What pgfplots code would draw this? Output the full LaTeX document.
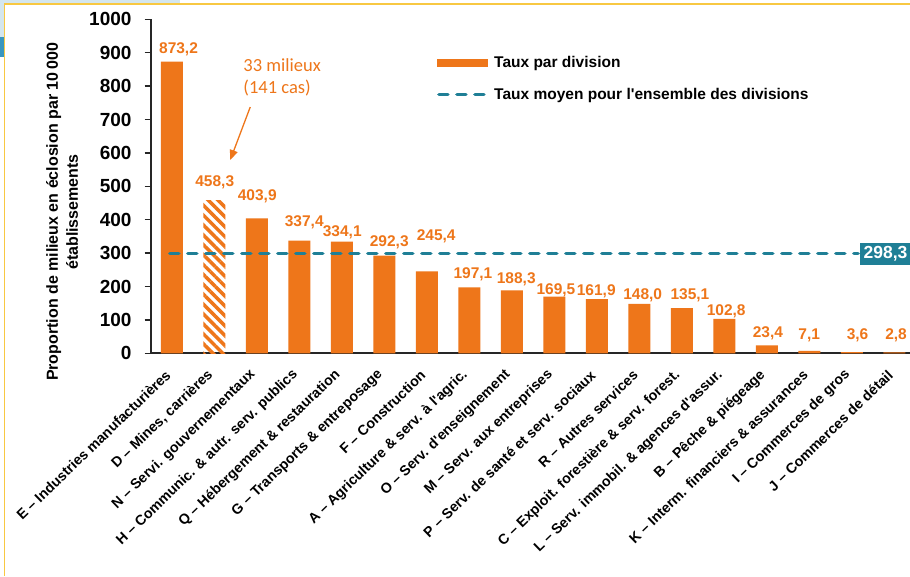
\documentclass[border=0pt]{standalone}
\usepackage{pgfplots}
\pgfplotsset{compat=1.18}
\usepackage{fontspec}
\setmainfont{Liberation Sans}
\newfontfamily\calib{Carlito}
\usetikzlibrary{patterns.meta, arrows.meta}
\definecolor{barorange}{HTML}{EE761A}
\definecolor{avgteal}{HTML}{1F7F96}
\definecolor{frameyellow}{HTML}{F8C842}
\definecolor{lightblue}{HTML}{D4E6EE}
\definecolor{midblue}{HTML}{3A96BE}
\newcommand\tickfont{\fontsize{19}{21}\selectfont\bfseries}
\newcommand\xfont{\fontsize{14.2}{17}\selectfont\bfseries}
\newcommand\valfont{\fontsize{15.5}{18}\selectfont\bfseries}
\newcommand\legfont{\fontsize{15.5}{18}\selectfont\bfseries}
\newcommand\q{\textquotesingle}
\begin{document}
\begin{tikzpicture}
\useasboundingbox (0pt,0pt) rectangle (910pt,576pt);
\clip (0pt,0pt) rectangle (910pt,576pt);
\fill[white] (0pt,0pt) rectangle (910pt,576pt);
% screenshot frame
\fill[lightblue] (0pt,572pt) rectangle (180pt,576pt);
\fill[lightblue] (0pt,519pt) rectangle (4pt,572pt);
\fill[midblue] (0pt,519pt) rectangle (4pt,539pt);
\draw[frameyellow, line width=1.5pt] (4.7pt,0pt) -- (4.7pt,571.8pt) -- (910pt,571.8pt);
\begin{axis}[
  at={(150.7pt,222.7pt)}, anchor=south west,
  scale only axis, width=781.8pt, height=334pt,
  xmin=-0.5, xmax=17.9, ymin=0, ymax=1000,
  clip=false,
  axis x line*=bottom, axis y line*=left,
  axis line style={-, line width=2pt, draw=black!85},
  ybar, bar width=22pt, bar shift=0pt,
  ytick={0,100,...,1000},
  /pgf/number format/assume math mode=true,
  /pgf/number format/1000 sep={},
  yticklabel style={font=\tickfont, inner sep=0pt, xshift=-13pt},
  ytick style={line width=1.5pt, draw=black!85},
  tick align=outside, major tick length=6pt,
  xtick={0,...,17},
  x tick style={draw=none},
  xticklabels={E -- Industries manufacturières, D -- Mines{,} carrières, N -- Servi. gouvernementaux, H -- Communic. \& autr. serv. publics, Q -- Hébergement \& restauration, G -- Transports \& entreposage, F -- Construction, A -- Agriculture \& serv. à l\q agric., O -- Serv. d\q enseignement, M -- Serv. aux entreprises, P -- Serv. de santé et serv. sociaux, R -- Autres services, C -- Exploit. forestière \& serv. forest., L -- Serv. immobil. \& agences d\q assur., B -- Pêche \& piégeage, K -- Interm. financiers \& assurances, I -- Commerces de gros, J -- Commerces de détail},
  xticklabel style={rotate=44, anchor=east, font=\xfont, inner sep=0pt, xshift=-12pt, yshift=-7pt},
  ylabel={Proportion de milieux en éclosion par 10\,000\\établissements},
  ylabel style={at={(axis description cs:-0.1135,0.423)}, anchor=center, align=center, font=\fontsize{16}{20}\selectfont\bfseries},
  legend style={at={(axis description cs:0.3662,0.889)}, anchor=north west, draw=none, fill=none, inner sep=0pt, font=\legfont, row sep=19pt, column sep=6pt, nodes={inner sep=0pt}},
  legend cell align=left,
]
\addplot[fill=barorange, draw=none, legend image code/.code={\fill[barorange] (0pt,-4pt) rectangle (51pt,4pt);}] coordinates {
 (0,873.2) (2,403.9) (3,337.4) (4,334.1) (5,292.3) (6,245.4) (7,197.1) (8,188.3) (9,169.5) (10,161.9) (11,148.0) (12,135.1) (13,102.8) (14,23.4) (15,7.1) (16,3.6) (17,2.8)};
\addlegendentry{Taux par division}
\addplot[draw=none, pattern={Lines[angle=-45, distance=7pt, line width=3.5pt]}, pattern color=barorange, forget plot] coordinates {(1,458.3)};
\addplot[sharp plot, no marks, color=avgteal, line width=3.5pt, dash pattern=on 9pt off 9pt, line cap=round,
  legend image code/.code={\draw[avgteal, line width=3.5pt, dash pattern=on 9pt off 9pt, line cap=round] (1.75pt,0pt) -- (49.25pt,0pt);}] coordinates {(-0.05,298.3) (16.15,298.3)};
\addlegendentry{Taux moyen pour l\q ensemble des divisions}
% average box
\node[fill=avgteal, text=white, font=\fontsize{17.5}{20}\selectfont\bfseries, anchor=west, inner xsep=4pt, minimum height=22pt] at (axis cs:16.18,298.3) {298,3};
% value labels
\begin{scope}[every node/.style={font=\valfont, text=barorange, inner sep=0pt}]
\node at (axis cs:0.155,911.1) {873,2};
\node at (axis cs:1.007,510.8) {458,3};
\node at (axis cs:2.008,468.9) {403,9};
\node at (axis cs:3.114,391.0) {337,4};
\node at (axis cs:4.008,362.3) {334,1};
\node at (axis cs:5.114,331.1) {292,3};
\node at (axis cs:6.220,351.2) {245,4};
\node at (axis cs:7.084,237.4) {197,1};
\node at (axis cs:8.103,221.6) {188,3};
\node at (axis cs:9.037,189.5) {169,5};
\node at (axis cs:9.986,184.4) {161,9};
\node at (axis cs:11.080,174.6) {148,0};
\node at (axis cs:12.191,174.6) {135,1};
\node at (axis cs:13.045,126.6) {102,8};
\node at (axis cs:14.027,59.9) {23,4};
\node at (axis cs:14.999,54.8) {7,1};
\node at (axis cs:16.136,54.8) {3,6};
\node at (axis cs:17.042,54.8) {2,8};
\end{scope}
% annotation
\node[anchor=north west, align=left, inner sep=0pt, text=barorange, font=\calib\fontsize{18.5}{22}\selectfont] at (axis cs:1.678,884) {33 milieux\\(141 cas)};
\draw[barorange, line width=1.3pt, -{Triangle[length=10pt,width=8pt]}] (axis cs:1.843,737.4) -- (axis cs:1.372,578.7);
\end{axis}
\end{tikzpicture}
\end{document}
